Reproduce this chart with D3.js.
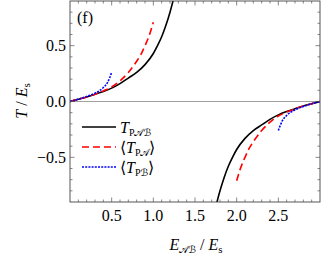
<!DOCTYPE html>
<html><head><meta charset="utf-8">
<script src="https://cdn.jsdelivr.net/npm/d3@7"></script>
<style>body{margin:0;background:#fff}svg{display:block}</style>
</head><body><svg id="c" width="321" height="259" font-family="Liberation Serif, Times New Roman, serif"></svg>
<script>
// data
const blackLeftE = [0, 0.1, 0.2, 0.3, 0.4, 0.5, 0.6, 0.7, 0.8, 0.9, 1.0, 1.05, 1.1, 1.15, 1.2, 1.25];
const blackLeftT = [0, 0.02, 0.04, 0.065, 0.09, 0.12, 0.16, 0.21, 0.26, 0.33, 0.43, 0.5, 0.58, 0.68, 0.8, 0.94];
const blackRightE = [1.75, 1.8, 1.85, 1.9, 1.95, 2.0, 2.1, 2.2, 2.3, 2.4, 2.5, 2.6, 2.7, 2.8, 2.9, 3.0];
const blackRightT = [-0.94, -0.8, -0.68, -0.58, -0.5, -0.43, -0.33, -0.26, -0.21, -0.16, -0.12, -0.09, -0.065, -0.04, -0.02, 0];
const redLeftE = [0, 0.1, 0.2, 0.3, 0.4, 0.5, 0.6, 0.7, 0.8, 0.85, 0.9, 0.95, 1.0];
const redLeftT = [0, 0.02, 0.04, 0.065, 0.095, 0.13, 0.185, 0.26, 0.36, 0.42, 0.5, 0.59, 0.71];
const redRightE = [2.0, 2.05, 2.1, 2.15, 2.2, 2.3, 2.4, 2.5, 2.6, 2.7, 2.8, 2.9, 3.0];
const redRightT = [-0.71, -0.59, -0.5, -0.42, -0.36, -0.26, -0.185, -0.13, -0.095, -0.065, -0.04, -0.02, 0];
const blueLeftE = [0, 0.1, 0.2, 0.3, 0.35, 0.4, 0.45, 0.5];
const blueLeftT = [0, 0.02, 0.045, 0.075, 0.095, 0.125, 0.17, 0.26];
const blueRightE = [2.5, 2.55, 2.6, 2.65, 2.7, 2.8, 2.9, 3.0];
const blueRightT = [-0.26, -0.17, -0.125, -0.095, -0.075, -0.045, -0.02, 0];
const xMajorTicks = [0.5, 1.0, 1.5, 2.0, 2.5];
const yMajorTicks = [-0.5, 0.0, 0.5];
const legendLabels = ["T_PAB", "<T_PA>", "<T_PB>"];

const svg = d3.select("#c");
const L = 70, R = 320, T = 1, B = 202;
const x = d3.scaleLinear().domain([0, 3]).range([L, R]);
const y = d3.scaleLinear().domain([-0.9, 0.9]).range([B, T]);

// zero line
svg.append("line").attr("x1", L).attr("x2", R).attr("y1", y(0)).attr("y2", y(0))
  .attr("stroke", "#888").attr("stroke-width", 0.8);

const clip = svg.append("clipPath").attr("id", "cp").append("rect")
  .attr("x", L).attr("y", T).attr("width", R - L).attr("height", B - T);
const g = svg.append("g").attr("clip-path", "url(#cp)");
const line = d3.line().x(d => x(d[0])).y(d => y(d[1])).curve(d3.curveMonotoneX);
function draw(E, V, color, dash, w) {
  g.append("path").datum(E.map((e, i) => [e, V[i]])).attr("d", line)
    .attr("fill", "none").attr("stroke", color).attr("stroke-width", w)
    .attr("stroke-dasharray", dash);
}
draw(blackLeftE, blackLeftT, "#000", null, 1.6);
draw(blackRightE, blackRightT, "#000", null, 1.6);
draw(redLeftE, redLeftT, "#f00", "7,4", 1.6);
draw(redRightE, redRightT, "#f00", "7,4", 1.6);
draw(blueLeftE, blueLeftT, "#00f", "2,1.2", 1.6);
draw(blueRightE, blueRightT, "#00f", "2,1.2", 1.6);

// frame
svg.append("rect").attr("x", L).attr("y", T).attr("width", R - L).attr("height", B - T)
  .attr("fill", "none").attr("stroke", "#444").attr("stroke-width", 0.9);

// ticks
const xMinor = d3.range(1, 30).map(i => i / 10);
const yMinor = d3.range(-8, 9).map(i => i / 10);
const tk = svg.append("g").attr("stroke", "#555").attr("stroke-width", 0.7);
xMinor.forEach(v => {
  const maj = Math.abs(v * 2 - Math.round(v * 2)) < 1e-6;
  const len = maj ? 4.5 : 2.5;
  tk.append("line").attr("x1", x(v)).attr("x2", x(v)).attr("y1", B).attr("y2", B - len);
  tk.append("line").attr("x1", x(v)).attr("x2", x(v)).attr("y1", T).attr("y2", T + len);
});
yMinor.forEach(v => {
  const maj = Math.abs(v * 2 - Math.round(v * 2)) < 1e-6;
  const len = maj ? 4.5 : 2.5;
  tk.append("line").attr("y1", y(v)).attr("y2", y(v)).attr("x1", L).attr("x2", L + len);
  tk.append("line").attr("y1", y(v)).attr("y2", y(v)).attr("x1", R).attr("x2", R - len);
});

// tick labels
const fmt = d3.format(".1f");
xMajorTicks.forEach(v => {
  svg.append("text").attr("x", x(v)).attr("y", 221).attr("text-anchor", "middle")
    .attr("font-size", 16).text(fmt(v));
});
yMajorTicks.forEach(v => {
  svg.append("text").attr("x", 66).attr("y", y(v) + 5.5).attr("text-anchor", "end")
    .attr("font-size", 16).text(fmt(v).replace("-", "\u2212"));
});

// panel label
svg.append("text").attr("x", 77).attr("y", 23).attr("font-size", 16).text("(f)");

const SCR = "DejaVu Serif, DejaVu Sans, serif";
// axis titles
const xt = svg.append("text").attr("x", 196).attr("y", 250).attr("text-anchor", "middle").attr("font-size", 16);
xt.append("tspan").attr("font-style", "italic").text("E");
xt.append("tspan").attr("font-size", 10).attr("dy", 3).attr("font-family", SCR).text("\uD835\uDC9C\u212C");
xt.append("tspan").attr("dy", -3).text("  / ");
xt.append("tspan").attr("font-style", "italic").text("E");
xt.append("tspan").attr("font-size", 11).attr("dy", 3).text("s");

const yt = svg.append("text").attr("transform", "translate(27,101) rotate(-90)").attr("text-anchor", "middle").attr("font-size", 16);
yt.append("tspan").attr("font-style", "italic").text("T");
yt.append("tspan").text(" / ");
yt.append("tspan").attr("font-style", "italic").text("E");
yt.append("tspan").attr("font-size", 11).attr("dy", 3).text("s");

// legend
const legY = [127, 147, 167];
const legStyle = [["#000", null], ["#f00", "7,4"], ["#00f", "2,1.2"]];
const subs = [["P", "\uD835\uDC9C\u212C"], ["P", "\uD835\uDC9C"], ["P", "\u212C"]];
legendLabels.forEach((lab, i) => {
  svg.append("line").attr("x1", 82).attr("x2", 116).attr("y1", legY[i]).attr("y2", legY[i])
    .attr("stroke", legStyle[i][0]).attr("stroke-width", 1.6).attr("stroke-dasharray", legStyle[i][1]);
  const t = svg.append("text").attr("x", 120).attr("y", legY[i] + 5.5).attr("font-size", 16);
  const br = lab.startsWith("<");
  if (br) t.append("tspan").text("\u27E8");
  t.append("tspan").attr("font-style", "italic").text("T");
  t.append("tspan").attr("font-size", 10).attr("dy", 3).text(subs[i][0]);
  t.append("tspan").attr("font-size", 10).attr("font-family", SCR).text(subs[i][1]);
  if (br) t.append("tspan").attr("dy", -3).text("\u27E9");
});
</script></body></html>
